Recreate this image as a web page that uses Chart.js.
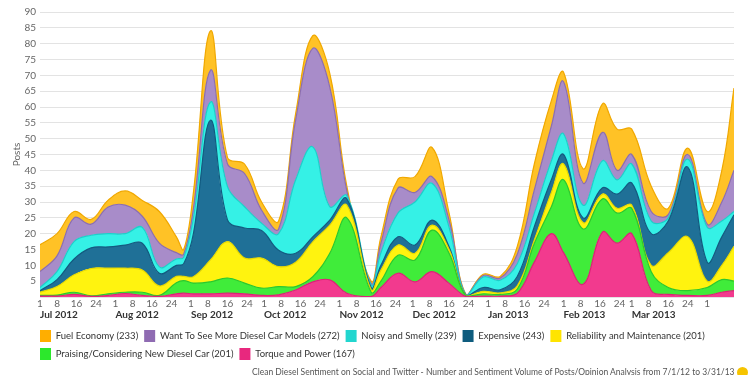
<!DOCTYPE html>
<html>
<head>
<meta charset="utf-8">
<script src="https://cdn.jsdelivr.net/npm/chart.js@4.4.1/dist/chart.umd.min.js"></script>
<style>
html,body{margin:0;padding:0;overflow:hidden;background:#fff}
#wrap{position:relative;width:750px;height:375px}
#note{position:absolute;left:252px;top:367px;width:482px;overflow:hidden;font:8.5px Lato,'Liberation Sans',Arial,sans-serif;color:#555;white-space:nowrap}
#dot{position:absolute;left:737px;top:367px;width:11px;height:11px;border-radius:6px;background:#f6c400}
</style>
</head>
<body>
<div id="wrap">
<canvas id="c" width="750" height="375"></canvas>
<div id="note">Clean Diesel Sentiment on Social and Twitter - Number and Sentiment Volume of Posts/Opinion Analysis from 7/1/12 to 3/31/13</div>
<div id="dot"></div>
</div>
<script>
// Days since 1 Jul 2012
const days = [0,7,14,21,28,35,42,49,56,59,63,70,77,84,91,98,105,112,119,126,136,140,147,154,161,168,175,182,189,196,203,210,215,223,231,237,243,251,258,266,274,280,285];

const torque      = [0.3,0.3,0.8,0.2,0.5,1.1,0.5,0.2,1,1.2,1,1,1.2,1,0.5,0.7,2.2,4.8,5.4,1.2,0.2,3,7.5,4.8,8,4.3,0.1,0.3,0.3,1.2,11,20,14,4,20.5,17,20,2,0.8,0.5,0.5,1.5,2];
const praising    = [0.2,0.3,0.7,0.2,0.5,0.4,1,0.3,3.5,4,3.4,3.8,4.8,3.4,2.3,2.6,1.1,1.6,8.4,23.8,1.3,2,5.7,6.9,13.1,9.5,0.1,0.7,0.5,1.3,5.9,8.5,23,17.5,10.5,9.5,8,6,2.2,1.5,2.5,4,3];
const reliability = [1,2.7,5.5,8.6,8.1,7.6,7,3,2,1.3,2,6.9,11.5,7.9,9.5,6.3,7.7,11,8.9,4,0.8,3.5,3.2,2.1,1.6,1.2,0.1,0.8,0.5,1,1.1,4.5,5,2,1.5,1.5,1,2,11,17,2,4.5,11];
const expensive   = [0.5,2.2,5,6.5,6.7,7.3,8.5,4,3.5,4,13.6,44.1,6.8,9.5,8.7,5.2,2.8,1.6,1.6,2,0.7,1.5,2.6,2.6,1.6,0.9,0.1,1.2,1,3,4.2,4,3,1.5,2,4.5,7,10,10,22,6,9,10];
const noisy       = [1,2.5,5.5,4,4.2,3.6,5,2,2,2,5,5.8,10.5,6.7,2.3,5.2,23.2,28.4,4.2,1,0.8,4,7.5,13.6,11.6,6.1,0.1,3.3,3,4,4.2,6,6.5,4,8.5,4.5,6,4,1,2.5,11,5,1];
const wantMore    = [5,5,7.5,3.5,8.4,9,3.5,7.5,2,1,3,10,7.2,10.5,4.1,1.5,19,31.1,37.8,1.5,0.5,3,7.9,3,2.1,2.3,0.1,0.5,0.7,3,7.4,11,16.5,7,9,3,3,3,1,1.5,1,6,13];
const fuel        = [8.5,7,2,1.5,2.2,4.5,5,10,5,1.5,5,12.4,2,3,2.6,2.5,2,4,4.3,1.5,0.7,2,2.8,5,9.2,2.2,0.1,0.4,0.5,2.5,8.2,8,3,4.5,9,13,8,8,2,2,4,10,26];

const seriesNames = ['Torque and Power (167)','Praising/Considering New Diesel Car (201)','Reliability and Maintenance (201)','Expensive (243)','Noisy and Smelly (239)','Want To See More Diesel Car Models (272)','Fuel Economy (233)'];
const seriesValues = [torque, praising, reliability, expensive, noisy, wantMore, fuel];
const fillColors   = ['#f23a8e','#40ec3a','#fff30f','#1f7097','#35f1e6','#a88cc9','#ffc226'];
const lineColors   = ['#dc2277','#2cc82c','#e6d800','#125b80','#1ccfca','#8c6eae','#f0a800'];
const legendColors = ['#e8287e','#2ce82c','#ffe400','#0e5c7e','#22d6cf','#8f6bb2','#ffae00'];

// Tick labels
const monthNames = ['Jul 2012','Aug 2012','Sep 2012','Oct 2012','Nov 2012','Dec 2012','Jan 2013','Feb 2013','Mar 2013'];
const monthStartDays = [0,31,62,92,123,153,184,215,243];
const dayOfMonthTicks = [1,8,16,24];
const extraTickDays = [274];   // 1 Apr 2013
const extraTickLabels = ['1'];
const yTickStep = 5;
const yMax = 90;
const xMax = 285;

const dayTicks = [];
const dayLabels = {};
monthStartDays.forEach(s => dayOfMonthTicks.forEach(d => { dayTicks.push(s + d - 1); dayLabels[s + d - 1] = String(d); }));
extraTickDays.forEach((d, i) => { dayTicks.push(d); dayLabels[d] = extraTickLabels[i]; });
const monthLabels = {};
monthStartDays.forEach((s, i) => { monthLabels[s] = monthNames[i]; });

const FONT = "Lato,'Liberation Sans',Arial,sans-serif";

const datasets = seriesValues.map((vals, k) => ({
  label: seriesNames[k],
  data: days.map((d, i) => ({x: d, y: vals[i]})),
  backgroundColor: fillColors[k],
  borderColor: lineColors[k],
  borderWidth: 1.2,
  pointRadius: 0,
  pointHoverRadius: 0,
  tension: 0.4,
  fill: k === 0 ? 'origin' : '-1',
  xAxisID: 'x',
  yAxisID: 'y'
}));

const legendShift = {
  id: 'legendShift',
  afterLayout(chart) { if (chart.legend) { chart.legend.left = 34; chart.legend.right = 760; } }
};

new Chart(document.getElementById('c'), {
  type: 'line',
  data: { datasets },
  plugins: [legendShift],
  options: {
    responsive: false,
    animation: false,
    events: [],
    layout: { padding: { top: 12, right: 16, bottom: 5, left: 0 } },
    plugins: {
      tooltip: { enabled: false },
      legend: {
        position: 'bottom',
        align: 'start',
        reverse: true,
        labels: {
          boxWidth: 11,
          boxHeight: 12,
          padding: 6,
          color: '#333',
          font: { family: FONT, size: 9.5 },
          generateLabels(chart) {
            const items = Chart.defaults.plugins.legend.labels.generateLabels(chart);
            items.forEach(it => { it.fillStyle = legendColors[it.datasetIndex]; it.strokeStyle = legendColors[it.datasetIndex]; it.lineWidth = 0; });
            return items;
          }
        }
      }
    },
    scales: {
      x: {
        type: 'linear',
        position: 'bottom',
        min: 0, max: xMax,
        grid: { display: false, drawTicks: false },
        border: { display: false },
        afterBuildTicks(axis) { axis.ticks = dayTicks.map(v => ({ value: v })); },
        afterFit(axis) { axis.height = 12; },
        ticks: {
          autoSkip: false, maxRotation: 0, padding: 1,
          color: '#666', font: { family: FONT, size: 10 },
          callback: v => dayLabels[v] !== undefined ? dayLabels[v] : ''
        }
      },
      x2: {
        type: 'linear',
        position: 'bottom',
        min: 0, max: xMax,
        grid: { display: false, drawTicks: false },
        border: { display: false },
        afterBuildTicks(axis) { axis.ticks = monthStartDays.map(v => ({ value: v })); },
        afterFit(axis) { axis.height = 15; },
        ticks: {
          autoSkip: false, maxRotation: 0, padding: 0, align: 'start',
          color: '#333', font: { family: FONT, size: 10, weight: 'bold' },
          callback: v => monthLabels[v] !== undefined ? monthLabels[v] : ''
        }
      },
      y: {
        stacked: true,
        min: 0, max: yMax,
        afterFit(axis) { axis.width = 40; },
        grid: { color: '#e3e3e3', drawTicks: false, lineWidth: 1 },
        border: { display: false },
        title: { display: true, text: 'Posts', color: '#666', font: { family: FONT, size: 10 }, padding: { top: 11, bottom: 0 } },
        ticks: {
          stepSize: yTickStep, padding: 4,
          color: '#666', font: { family: FONT, size: 10 },
          callback: v => v === 0 ? '' : String(v)
        }
      }
    }
  }
});
</script>
</body>
</html>
